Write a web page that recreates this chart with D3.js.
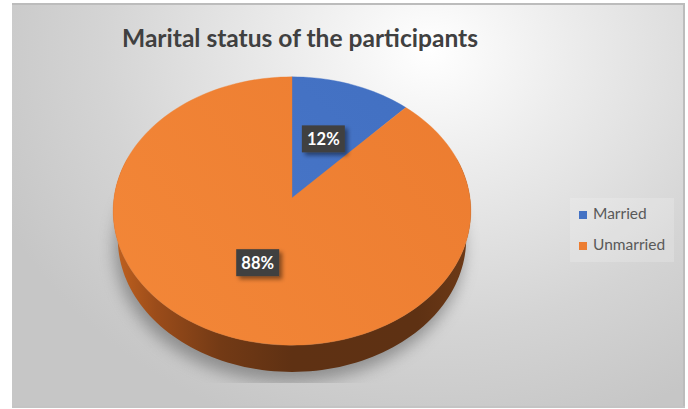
<!DOCTYPE html>
<html>
<head>
<meta charset="utf-8">
<script src="https://cdn.jsdelivr.net/npm/d3@7"></script>
<style>
  html, body { margin: 0; padding: 0; background: #ffffff; }
  svg { display: block; }
</style>
</head>
<body>
<svg id="chart" width="688" height="409"></svg>
<script>
// Chart data
const categories = ["Married", "Unmarried"];
const shares = [12, 88];
const colors = ["#4472c4", "#ed7d31"];
const chartTitle = "Marital status of the participants";

const svg = d3.select("#chart");
const defs = svg.append("defs");

// Chart frame
const frame = { x: 12, y: 3, w: 673, h: 405 };

// Background: soft light-centre gradient
const bg = defs.append("radialGradient")
  .attr("id", "bgGrad")
  .attr("gradientUnits", "userSpaceOnUse")
  .attr("cx", 430).attr("cy", 50).attr("r", 470)
  .attr("gradientTransform", "translate(430,50) scale(1,0.85) translate(-430,-50)");
bg.append("stop").attr("offset", 0).attr("stop-color", "#ffffff");
bg.append("stop").attr("offset", 0.3).attr("stop-color", "#ececec");
bg.append("stop").attr("offset", 0.7).attr("stop-color", "#d4d4d4");
bg.append("stop").attr("offset", 1).attr("stop-color", "#c6c6c6");

svg.append("rect")
  .attr("x", frame.x).attr("y", frame.y)
  .attr("width", frame.w).attr("height", frame.h)
  .attr("fill", "url(#bgGrad)");

// frame edges (top, right, bottom)
const edge = svg.append("g").attr("stroke", "#bcbcbc").attr("stroke-width", 2);
edge.append("line").attr("x1", frame.x).attr("x2", frame.x + frame.w).attr("y1", frame.y + 1).attr("y2", frame.y + 1);
edge.append("line").attr("x1", frame.x + frame.w - 1).attr("x2", frame.x + frame.w - 1).attr("y1", frame.y).attr("y2", frame.y + frame.h);
edge.append("line").attr("x1", frame.x).attr("x2", frame.x + frame.w).attr("y1", frame.y + frame.h - 1).attr("y2", frame.y + frame.h - 1)
  .attr("stroke", "#c4c4c4");

// Title
svg.append("text")
  .attr("x", 300).attr("y", 47)
  .attr("text-anchor", "middle")
  .attr("font-family", "Lato, 'Open Sans', sans-serif")
  .attr("font-weight", "bold")
  .attr("font-size", 24)
  .attr("fill", "#404040")
  .attr("textLength", 356)
  .attr("lengthAdjust", "spacingAndGlyphs")
  .text(chartTitle);

// 3D perspective projection of a tilted disc
const view = { cx: 292, cy: 198, f: 1221, d0: 6.86, tilt: 48.3 * Math.PI / 180, thick: 0.243 };
const sA = Math.sin(view.tilt), cA = Math.cos(view.tilt);
function project(theta, rho, h) {
  // theta: d3 pie angle (0 = back / 12 o'clock, clockwise seen from above)
  const x = rho * Math.sin(theta);
  const z = -rho * Math.cos(theta);           // positive z = toward viewer
  const yc = z * sA - h * cA;
  const d = view.d0 - z * cA - h * sA;
  return [view.cx + view.f * x / d, view.cy + view.f * yc / d];
}
function ring(a0, a1, h, n) {
  const pts = [];
  for (let i = 0; i <= n; i++) {
    const a = a0 + (a1 - a0) * i / n;
    pts.push(project(a, 1, h));
  }
  return pts;
}
const line = d3.line();

const pie = d3.pie().sort(null).startAngle(0).endAngle(2 * Math.PI);
const arcs = pie(shares);

// Drop shadow under the pie
const shadowFilter = defs.append("filter").attr("id", "pieShadow")
  .attr("x", "-30%").attr("y", "-30%").attr("width", "160%").attr("height", "160%");
shadowFilter.append("feGaussianBlur").attr("stdDeviation", 8);
defs.append("clipPath").attr("id", "plotClip")
  .append("rect").attr("x", frame.x).attr("y", frame.y).attr("width", frame.w).attr("height", 383 - frame.y);

const silhouette = ring(0, 2 * Math.PI, -view.thick, 120);
svg.append("g").attr("clip-path", "url(#plotClip)")
  .append("path")
  .attr("d", line(silhouette) + "Z")
  .attr("transform", "translate(-3,10)")
  .attr("fill", "#7e7e7e")
  .attr("opacity", 0.8)
  .attr("filter", "url(#pieShadow)");

// Side wall of the pie (front part is visible)
const sideGrad = defs.append("linearGradient").attr("id", "sideGrad")
  .attr("gradientUnits", "userSpaceOnUse")
  .attr("x1", 113).attr("x2", 471).attr("y1", 0).attr("y2", 0);
[[0, "#c2621f"], [0.12, "#9b4c1a"], [0.3, "#733a15"], [0.5, "#5f3113"], [0.85, "#5e3113"], [1, "#6e3a17"]]
  .forEach(([o, c]) => sideGrad.append("stop").attr("offset", o).attr("stop-color", c));

const sideTop = ring(Math.PI * 0.4, Math.PI * 1.6, 0, 120);
const sideBottom = ring(Math.PI * 1.6, Math.PI * 0.4, -view.thick, 120);
svg.append("path")
  .attr("d", line(sideTop.concat(sideBottom)) + "Z")
  .attr("fill", "url(#sideGrad)");

// Top face slices
const topGrad = defs.append("linearGradient").attr("id", "topOrange")
  .attr("gradientUnits", "userSpaceOnUse")
  .attr("x1", 113).attr("y1", 340).attr("x2", 471).attr("y2", 80);
topGrad.append("stop").attr("offset", 0).attr("stop-color", "#f38738");
topGrad.append("stop").attr("offset", 1).attr("stop-color", "#ec7c30");
const topGradB = defs.append("linearGradient").attr("id", "topBlue")
  .attr("gradientUnits", "userSpaceOnUse")
  .attr("x1", 292).attr("y1", 200).attr("x2", 410).attr("y2", 80);
topGradB.append("stop").attr("offset", 0).attr("stop-color", "#4674c6");
topGradB.append("stop").attr("offset", 1).attr("stop-color", "#4270c2");
const fills = ["url(#topBlue)", "url(#topOrange)"];

svg.append("g").selectAll("path.slice")
  .data(arcs)
  .join("path")
  .attr("class", "slice")
  .attr("d", d => {
    const n = Math.max(4, Math.ceil((d.endAngle - d.startAngle) / (2 * Math.PI) * 180));
    const pts = [project(0, 0, 0)].concat(ring(d.startAngle, d.endAngle, 0, n));
    return line(pts) + "Z";
  })
  .attr("fill", (d, i) => fills[i])
  .attr("stroke", (d, i) => colors[i])
  .attr("stroke-width", 0.4);

// Data labels
const labelShadow = defs.append("filter").attr("id", "labelShadow")
  .attr("x", "-30%").attr("y", "-30%").attr("width", "170%").attr("height", "170%");
labelShadow.append("feDropShadow")
  .attr("dx", 3).attr("dy", 3).attr("stdDeviation", 2)
  .attr("flood-color", "#000").attr("flood-opacity", 0.45);

const labels = svg.append("g").selectAll("g.label")
  .data(arcs)
  .join("g")
  .attr("class", "label")
  .attr("transform", d => {
    const [x, y] = project((d.startAngle + d.endAngle) / 2, 0.5, 0);
    return `translate(${x},${y})`;
  });
labels.append("rect")
  .attr("x", -21.5).attr("y", -13.5)
  .attr("width", 43).attr("height", 27)
  .attr("fill", "#404040")
  .attr("filter", "url(#labelShadow)");
labels.append("text")
  .attr("text-anchor", "middle")
  .attr("y", 6)
  .attr("font-family", "Lato, 'Open Sans', sans-serif")
  .attr("font-weight", "bold")
  .attr("font-size", 16.5)
  .attr("fill", "#ffffff")
  .text(d => d.data + "%");

// Legend
const legend = svg.append("g");
legend.append("rect")
  .attr("x", 570).attr("y", 198).attr("width", 104).attr("height", 64)
  .attr("fill", "#ffffff").attr("opacity", 0.18);
const items = legend.selectAll("g.item")
  .data(categories)
  .join("g")
  .attr("class", "item")
  .attr("transform", (d, i) => `translate(579,${211 + i * 31})`);
items.append("rect")
  .attr("width", 8).attr("height", 8)
  .attr("fill", (d, i) => colors[i]);
items.append("text")
  .attr("x", 14).attr("y", 8)
  .attr("font-family", "Lato, 'Open Sans', sans-serif")
  .attr("font-size", 15.5)
  .attr("fill", "#595959")
  .text(d => d);
</script>
</body>
</html>
